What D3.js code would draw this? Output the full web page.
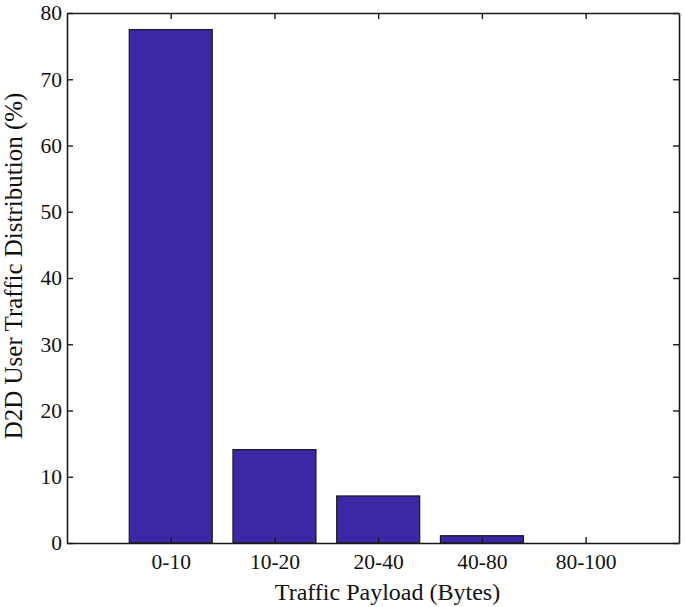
<!DOCTYPE html>
<html><head><meta charset="utf-8">
<script src="https://cdn.jsdelivr.net/npm/d3@7"></script>
<style>body{margin:0;background:#fff;} svg{display:block;}</style>
</head><body>
<script>
const categories = ["0-10", "10-20", "20-40", "40-80", "80-100"];
const values = [77.5, 14.1, 7.1, 1.1, 0];
const yTicks = [0, 10, 20, 30, 40, 50, 60, 70, 80];
const xTitle = "Traffic Payload (Bytes)";
const yTitle = "D2D User Traffic Distribution (%)";

const W = 685, H = 607;
const m = {left: 67, right: 6, top: 13, bottom: 64};
const svg = d3.select("body").append("svg").attr("width", W).attr("height", H);
const font = "'Liberation Serif', 'Times New Roman', serif";

const x = d3.scaleLinear().domain([0, 5.9]).range([m.left, W - m.right]);
const y = d3.scaleLinear().domain([0, 80]).range([H - m.bottom, m.top]);
const barW = (x(0.8) - x(0));

svg.append("g").selectAll("rect").data(values).join("rect")
  .attr("x", (d, i) => x(i + 1) - barW / 2)
  .attr("width", barW)
  .attr("y", d => y(d))
  .attr("height", d => y(0) - y(d))
  .attr("fill", "#3c28a5")
  .attr("stroke", "#1a1a1a")
  .attr("stroke-width", 1.2);

const tickVals = categories.map((c, i) => i + 1);
const xb = svg.append("g").attr("transform", `translate(0,${y(0)})`)
  .call(d3.axisBottom(x).tickValues(tickVals).tickFormat((d) => categories[d - 1]).tickSizeInner(-6).tickSizeOuter(0).tickPadding(11));
const xt = svg.append("g").attr("transform", `translate(0,${y(80)})`)
  .call(d3.axisTop(x).tickValues(tickVals).tickFormat("").tickSizeInner(-6).tickSizeOuter(0));
const yl = svg.append("g").attr("transform", `translate(${x(0)},0)`)
  .call(d3.axisLeft(y).tickValues(yTicks).tickSizeInner(-6).tickSizeOuter(0).tickPadding(5));
const yr = svg.append("g").attr("transform", `translate(${x(5.9)},0)`)
  .call(d3.axisRight(y).tickValues(yTicks).tickFormat("").tickSizeInner(-6).tickSizeOuter(0));

[xb, xt, yl, yr].forEach(g => {
  g.selectAll("path").attr("stroke", "#1a1a1a").attr("stroke-width", 1.6);
  g.selectAll("line").attr("stroke", "#1a1a1a").attr("stroke-width", 1.4);
  g.selectAll("text").attr("font-family", font).attr("font-size", 21.5).attr("fill", "#111");
});

svg.append("text").attr("x", 387.5).attr("y", 600)
  .attr("text-anchor", "middle").attr("font-family", font).attr("font-size", 24).attr("fill", "#111")
  .text(xTitle);
svg.append("text").attr("transform", `translate(22,266) rotate(-90)`)
  .attr("text-anchor", "middle").attr("font-family", font).attr("font-size", 25).attr("fill", "#111")
  .text(yTitle);
</script>
</body></html>
